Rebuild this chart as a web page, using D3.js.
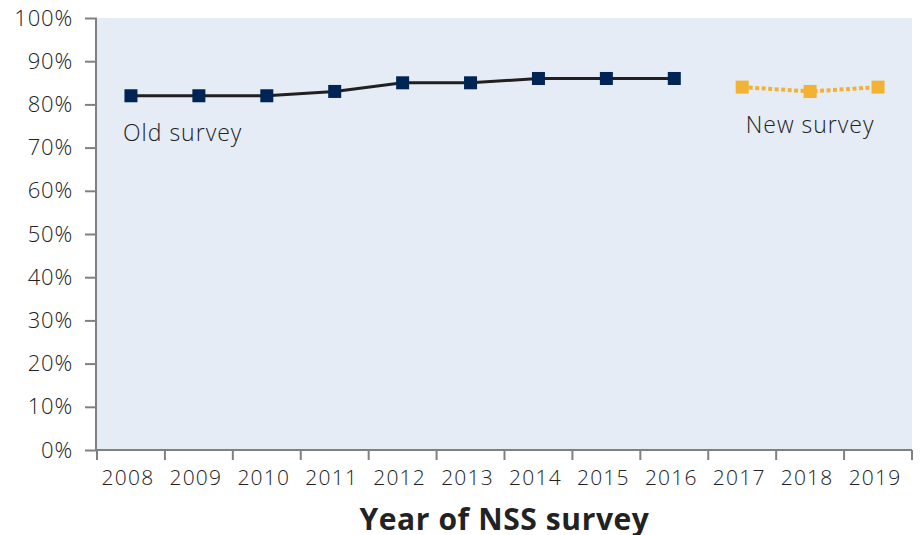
<!DOCTYPE html>
<html>
<head>
<meta charset="utf-8">
<script src="https://cdn.jsdelivr.net/npm/d3@7"></script>
<style>
  body { margin: 0; background: #fff; }
  text { font-family: "Open Sans", Lato, sans-serif; }
</style>
</head>
<body>
<svg width="922" height="535"></svg>
<script>
const years = ['2008','2009','2010','2011','2012','2013','2014','2015','2016','2017','2018','2019'];
const oldYears = ['2008','2009','2010','2011','2012','2013','2014','2015','2016'];
const oldValues = [82, 82, 82, 83, 85, 85, 86, 86, 86];
const newYears = ['2017','2018','2019'];
const newValues = [84, 83, 84];
const yTicks = [0, 10, 20, 30, 40, 50, 60, 70, 80, 90, 100];

const svg = d3.select('svg');
const margin = { top: 18, right: 10, bottom: 85, left: 97 };
const width = +svg.attr('width');
const height = +svg.attr('height');
const innerWidth = width - margin.left - margin.right;
const innerHeight = height - margin.top - margin.bottom;

const xScale = d3.scaleBand().domain(years).range([0, innerWidth]);
const yScale = d3.scaleLinear().domain([0, 100]).range([innerHeight, 0]);

const g = svg.append('g')
    .attr('transform', `translate(${margin.left}, ${margin.top})`);

g.append('rect')
    .attr('width', innerWidth)
    .attr('height', innerHeight)
    .attr('fill', '#e6ecf5');

// y axis
const yAxisG = g.append('g')
    .call(d3.axisLeft(yScale).tickValues(yTicks).tickFormat(d => d + '%').tickSize(12).tickPadding(12));
yAxisG.selectAll('.tick line').attr('stroke', '#808080').attr('stroke-width', 2);
yAxisG.select('.domain').remove();
yAxisG.selectAll('.tick text')
    .attr('fill', '#222')
    .attr('font-size', 22)
    .attr('font-weight', 300)
    .attr('letter-spacing', 0.8);
g.append('line')
    .attr('x1', -1).attr('x2', -1)
    .attr('y1', 0).attr('y2', innerHeight)
    .attr('stroke', '#808080').attr('stroke-width', 2);

// x axis
const xAxisG = g.append('g')
    .attr('transform', `translate(0, ${innerHeight})`)
    .call(d3.axisBottom(xScale).tickSize(0).tickPadding(20));
xAxisG.select('.domain').remove();
xAxisG.selectAll('.tick text')
    .attr('fill', '#222')
    .attr('font-size', 21)
    .attr('font-weight', 300)
    .attr('letter-spacing', 1.2)
    .attr('dx', -3);
g.append('line')
    .attr('x1', -1).attr('x2', innerWidth)
    .attr('y1', innerHeight).attr('y2', innerHeight)
    .attr('stroke', '#808080').attr('stroke-width', 2);
g.selectAll('.xtick').data(years.concat(['end']))
    .enter().append('line')
    .attr('class', 'xtick')
    .attr('x1', (d, i) => i * xScale.step())
    .attr('x2', (d, i) => i * xScale.step())
    .attr('y1', innerHeight)
    .attr('y2', innerHeight + 10)
    .attr('stroke', '#808080').attr('stroke-width', 2);

xAxisG.append('text')
    .attr('x', innerWidth / 2)
    .attr('y', 80)
    .attr('fill', '#222')
    .attr('font-size', 30)
    .attr('font-weight', 'bold')
    .attr('letter-spacing', 0.6)
    .attr('text-anchor', 'middle')
    .text('Year of NSS survey');

const xPos = d => xScale(d) + xScale.bandwidth() / 2;

// old survey
const oldData = oldYears.map((y, i) => ({ year: y, value: oldValues[i] }));
g.append('path')
    .datum(oldData)
    .attr('fill', 'none')
    .attr('stroke', '#231f20')
    .attr('stroke-width', 3)
    .attr('d', d3.line().x(d => xPos(d.year)).y(d => yScale(d.value)));
g.selectAll('.old').data(oldData)
    .enter().append('rect')
    .attr('class', 'old')
    .attr('x', d => xPos(d.year) - 6.5)
    .attr('y', d => yScale(d.value) - 6.5)
    .attr('width', 13).attr('height', 13)
    .attr('fill', '#002554');

// new survey
const newData = newYears.map((y, i) => ({ year: y, value: newValues[i] }));
g.append('path')
    .datum(newData)
    .attr('fill', 'none')
    .attr('stroke', '#f2b233')
    .attr('stroke-width', 4)
    .attr('stroke-dasharray', '4,2.5')
    .attr('d', d3.line().x(d => xPos(d.year)).y(d => yScale(d.value)));
g.selectAll('.new').data(newData)
    .enter().append('rect')
    .attr('class', 'new')
    .attr('x', d => xPos(d.year) - 6.5)
    .attr('y', d => yScale(d.value) - 6.5)
    .attr('width', 13).attr('height', 13)
    .attr('fill', '#f2b233');

g.append('text')
    .attr('x', xPos('2008') - 8)
    .attr('y', yScale(82) + 45)
    .attr('fill', '#222')
    .attr('font-size', 23)
    .attr('font-weight', 300)
    .attr('letter-spacing', 1)
    .text('Old survey');
g.append('text')
    .attr('x', xPos('2018'))
    .attr('y', yScale(84) + 46)
    .attr('fill', '#222')
    .attr('font-size', 23)
    .attr('font-weight', 300)
    .attr('letter-spacing', 1)
    .attr('text-anchor', 'middle')
    .text('New survey');
</script>
</body>
</html>
